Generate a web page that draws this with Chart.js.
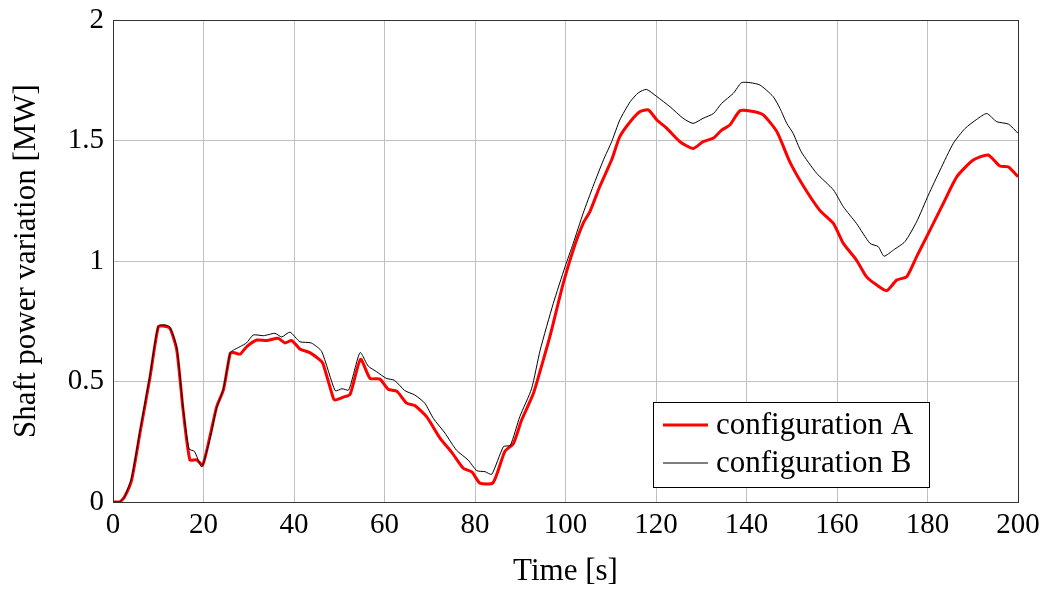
<!DOCTYPE html>
<html>
<head>
<meta charset="utf-8">
<script src="https://cdn.jsdelivr.net/npm/chart.js@4"></script>
<style>
  html, body { margin: 0; padding: 0; background: #fff; }
  #wrap { width: 1046px; height: 590px; }
</style>
</head>
<body>
<div id="wrap"><canvas id="myChart" width="1046" height="590"></canvas></div>
<script>
// values
const timeA = [0, 1.5, 2.5, 4.1, 6, 8.2, 10, 11.1, 12.6, 14.1, 15.5, 17, 18.5, 19.8, 21.4, 22.9, 24.4, 25.9, 26.6, 28.1,
  29.5, 31.8, 34, 36.5, 38, 39.5, 41.3, 43.5, 45.7, 46.4, 48.7, 49.1, 50.9, 52.4, 54.7, 56.8, 59, 60.8, 62.7, 64.9,
  66.7, 69.3, 72.3, 74.9, 77.4, 79.3, 81.1, 84, 86.6, 88.5, 90.3, 92.9, 95.1, 96.6, 99.5, 101.7, 103.9, 105.4, 107.6, 110.2,
  112, 114.3, 116.5, 118.3, 120.2, 122.4, 125.3, 128.2, 130.4, 132.7, 134.5, 136.3, 138.6, 141.5, 143.7, 146.7, 149.6, 152.6, 156.2, 159.2,
  161.4, 164.3, 166.5, 168.8, 171, 173.2, 175.4, 177.6, 179.8, 183.5, 186.5, 190.1, 193.4, 196, 197.9, 200];
const powerA = [0, 0, 0.02, 0.09, 0.29, 0.52, 0.727, 0.73, 0.72, 0.63, 0.38, 0.174, 0.175, 0.153, 0.27, 0.395, 0.465, 0.617, 0.62, 0.614,
  0.644, 0.672, 0.67, 0.679, 0.66, 0.67, 0.635, 0.62, 0.59, 0.575, 0.43, 0.423, 0.435, 0.447, 0.592, 0.513, 0.51, 0.468, 0.46, 0.41,
  0.40, 0.354, 0.264, 0.205, 0.14, 0.125, 0.078, 0.08, 0.21, 0.243, 0.34, 0.45, 0.59, 0.69, 0.907, 1.046, 1.156, 1.205, 1.31, 1.42,
  1.516, 1.578, 1.62, 1.627, 1.585, 1.55, 1.495, 1.467, 1.495, 1.51, 1.543, 1.564, 1.624, 1.62, 1.606, 1.537, 1.41, 1.31, 1.21, 1.156,
  1.073, 1.004, 0.935, 0.90, 0.877, 0.921, 0.935, 1.018, 1.10, 1.239, 1.35, 1.419, 1.44, 1.394, 1.39, 1.35];

const timeB = [0, 1.5, 2.5, 4.1, 6, 8.2, 10, 11.5, 12.6, 14.1, 15.5, 16.8, 18, 19.6, 21.4, 22.9, 24.4, 25.9, 26.6, 28.1,
  29.5, 31, 33.2, 34.5, 35.8, 37.3, 39.1, 41.3, 43.8, 46.1, 49.1, 50.6, 52.1, 54.6, 56.4, 58.3, 60.4, 62.2, 64.5, 66.7,
  68.9, 70.8, 73.4, 75.9, 78.5, 80.4, 82.2, 83.7, 86.3, 87.8, 89.9, 92.5, 94.4, 97.3, 99.9, 101.7, 103.9, 106.1, 108.4, 110.2,
  112, 114.3, 116.1, 117.9, 120.2, 123.1, 126, 128.2, 130.4, 132.7, 134.5, 137.1, 138.9, 140.8, 143, 145.9, 147.4, 148.9, 150.3, 152.1,
  155.5, 159.2, 161.4, 164.3, 167.3, 169.1, 170.4, 172.5, 175, 177.6, 180.2, 182.8, 185.7, 188.3, 190.9, 193.1, 195.3, 197.9, 200];
const powerB = [0, 0, 0.02, 0.1, 0.3, 0.53, 0.73, 0.735, 0.725, 0.64, 0.39, 0.22, 0.21, 0.146, 0.26, 0.39, 0.47, 0.62, 0.63, 0.645,
  0.66, 0.693, 0.69, 0.695, 0.70, 0.685, 0.705, 0.665, 0.66, 0.625, 0.462, 0.47, 0.465, 0.62, 0.564, 0.54, 0.513, 0.505, 0.462, 0.444,
  0.41, 0.347, 0.285, 0.215, 0.174, 0.13, 0.126, 0.115, 0.23, 0.235, 0.354, 0.47, 0.63, 0.824, 0.976, 1.073, 1.198, 1.31, 1.42, 1.495,
  1.585, 1.661, 1.698, 1.712, 1.682, 1.64, 1.592, 1.571, 1.592, 1.612, 1.654, 1.696, 1.74, 1.74, 1.73, 1.682, 1.633, 1.571, 1.53, 1.453,
  1.364, 1.295, 1.225, 1.156, 1.073, 1.06, 1.02, 1.046, 1.08, 1.163, 1.274, 1.378, 1.488, 1.55, 1.588, 1.612, 1.578, 1.568, 1.53];

const seriesLabels = ['configuration A', 'configuration B'];
const FONT = 'Liberation Serif';

const toPoints = (xs, ys) => xs.map((x, i) => ({ x: x, y: ys[i] }));

// frame round the plot area + boxed legend like pgfplots
const framePlugin = {
  id: 'frame',
  afterDatasetsDraw(chart) {
    const { ctx, chartArea: a } = chart;
    ctx.save();
    ctx.strokeStyle = '#333';
    ctx.lineWidth = 1;
    ctx.strokeRect(a.left + 0.5, a.top + 0.5, a.right - a.left, a.bottom - a.top);

    const bx = 653, by = 402, bw = 276, bh = 85;
    ctx.fillStyle = '#fff';
    ctx.fillRect(bx, by, bw, bh);
    ctx.strokeStyle = '#000';
    ctx.strokeRect(bx + 0.5, by + 0.5, bw, bh);
    ctx.font = '31px "' + FONT + '"';
    ctx.textBaseline = 'middle';
    chart.data.datasets.forEach((ds, i) => {
      const y = 425 + i * 38;
      ctx.strokeStyle = ds.borderColor;
      ctx.lineWidth = ds.borderWidth;
      ctx.beginPath();
      ctx.moveTo(663, y);
      ctx.lineTo(708, y);
      ctx.stroke();
      ctx.fillStyle = '#000';
      ctx.fillText(ds.label, 716, y + 1);
    });
    ctx.restore();
  }
};

const ctx = document.getElementById('myChart');

new Chart(ctx, {
  type: 'line',
  data: {
    datasets: [{
      label: seriesLabels[0],
      data: toPoints(timeA, powerA),
      borderColor: '#ff0000',
      borderWidth: 3,
      pointRadius: 0,
      tension: 0.2,
      order: 1
    }, {
      label: seriesLabels[1],
      data: toPoints(timeB, powerB),
      borderColor: '#000000',
      borderWidth: 1,
      pointRadius: 0,
      tension: 0.2,
      order: 0
    }]
  },
  options: {
    responsive: false,
    animation: false,
    layout: { padding: { left: 0, top: 20, right: 28, bottom: 0 } },
    plugins: {
      legend: { display: false },
      tooltip: { enabled: false }
    },
    scales: {
      x: {
        type: 'linear',
        min: 0,
        max: 200,
        afterFit: (s) => { s.height = 88; s.paddingLeft = 0; s.paddingRight = 0; },
        ticks: {
          stepSize: 20,
          padding: 6,
          color: '#000',
          font: { family: FONT, size: 29 },
          maxRotation: 0
        },
        grid: { color: '#c0c0c0', lineWidth: 1, drawTicks: false },
        border: { display: false },
        title: {
          display: true,
          text: 'Time [s]',
          color: '#000',
          font: { family: FONT, size: 31 },
          padding: { top: 0, bottom: 0 }
        }
      },
      y: {
        min: 0,
        max: 2,
        afterFit: (s) => { s.width = 113; s.paddingTop = 0; s.paddingBottom = 0; },
        ticks: {
          stepSize: 0.5,
          padding: 9,
          color: '#000',
          font: { family: FONT, size: 29 },
          callback: (v) => String(v)
        },
        grid: { color: '#c0c0c0', lineWidth: 1, drawTicks: false },
        border: { display: false },
        title: {
          display: true,
          text: 'Shaft power variation [MW]',
          color: '#000',
          font: { family: FONT, size: 31 },
          padding: { top: 8, bottom: 0 }
        }
      }
    }
  },
  plugins: [framePlugin]
});
</script>
</body>
</html>
